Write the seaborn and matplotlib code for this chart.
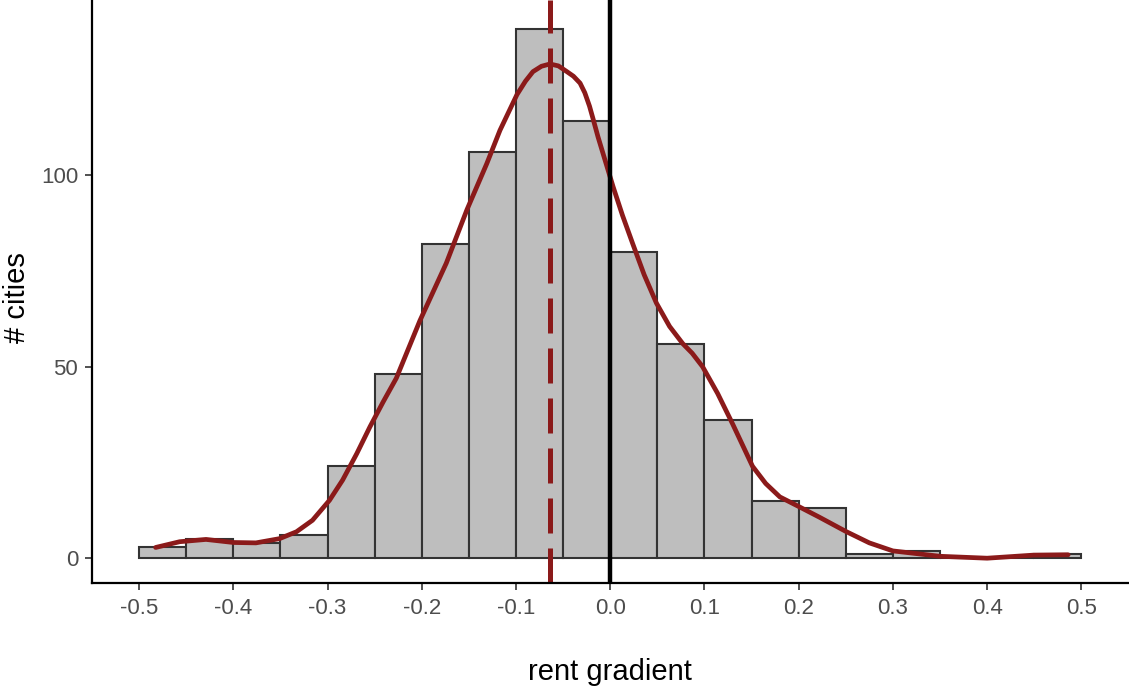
import matplotlib
matplotlib.use("Agg")
import matplotlib.pyplot as plt
import numpy as np
import seaborn as sns

# histogram: bins of width 0.05 from -0.5 to 0.5
bin_lo = [-0.5, -0.45, -0.4, -0.35, -0.3, -0.25, -0.2, -0.15, -0.1, -0.05,
          0.0, 0.05, 0.1, 0.15, 0.2, 0.25, 0.3, 0.35, 0.4, 0.45]
counts = [3, 5, 4, 6, 24, 48, 82, 106, 138, 114,
          80, 56, 36, 15, 13, 1, 2, 0, 0, 1]
bin_width = 0.05

# density curve (scaled to counts)
curve_x = [-0.4825, -0.457, -0.429, -0.400, -0.376, -0.351, -0.333, -0.316,
           -0.298, -0.284, -0.269, -0.255, -0.241, -0.227, -0.202, -0.174,
           -0.152, -0.131, -0.117, -0.099, -0.090, -0.082, -0.073, -0.064,
           -0.055, -0.046, -0.039, -0.032, -0.027, -0.022, -0.018, -0.013,
           -0.005, 0.003, 0.013, 0.024, 0.036, 0.049, 0.063, 0.077, 0.087,
           0.098, 0.114, 0.130, 0.151, 0.165, 0.180, 0.200, 0.222, 0.250,
           0.275, 0.300, 0.350, 0.400, 0.449, 0.486]
curve_y = [2.8, 4.3, 4.9, 4.1, 4.0, 5.1, 6.9, 9.9,
           15.1, 20.4, 27.3, 34.3, 40.8, 47.0, 62.0, 77.0,
           91.0, 103.0, 111.7, 121.0, 124.5, 127.0, 128.4, 129.0,
           128.5, 127.0, 125.8, 124.0, 121.5, 118.0, 114.5, 110.0,
           103.5, 97.0, 89.5, 82.0, 74.0, 66.6, 60.5, 56.0, 53.5,
           50.0, 43.0, 35.0, 24.0, 19.5, 16.0, 13.5, 10.7, 7.0,
           4.0, 1.9, 0.5, 0.0, 0.8, 0.9]

mean_gradient = -0.064

x_ticks = [-0.5, -0.4, -0.3, -0.2, -0.1, 0.0, 0.1, 0.2, 0.3, 0.4, 0.5]
y_ticks = [0, 50, 100]

sns.set_style("white")
plt.rcParams['font.family'] = ['Liberation Sans', 'DejaVu Sans']

fig = plt.figure(figsize=(11.29, 6.86), dpi=100)
ax = fig.add_axes([0.0815, 0.15, 0.918, 0.85])

centers = [b + bin_width / 2 for b in bin_lo]
edges = bin_lo + [bin_lo[-1] + bin_width]
sns.histplot(x=centers, weights=counts, bins=edges, ax=ax,
             color="#BEBEBE", alpha=1, edgecolor="#333333", linewidth=1.5)

sns.lineplot(x=curve_x, y=curve_y, ax=ax, color="#8B1A1A", linewidth=3.4,
             solid_capstyle="round", solid_joinstyle="round")

ax.axvline(mean_gradient, color="#8B1A1A", linewidth=3.6, dashes=(7, 3))
ax.axvline(0, color="black", linewidth=3.2)

ax.set_xlim(-0.55, 0.55)
ax.set_ylim(-6.5, 145.7)
ax.set_xticks(x_ticks)
ax.set_xticklabels([f"{t:.1f}" for t in x_ticks])
ax.set_yticks(y_ticks)

for s in ["top", "right"]:
    ax.spines[s].set_visible(False)
for s in ["left", "bottom"]:
    ax.spines[s].set_color("black")
    ax.spines[s].set_linewidth(1.6)

ax.tick_params(axis="both", length=5, width=1.2, color="#333333",
               labelcolor="#4D4D4D", labelsize=16, bottom=True, left=True)
ax.tick_params(axis="x", pad=6)
ax.tick_params(axis="y", pad=5)
ax.set_xlabel("rent gradient", fontsize=21, color="black")
ax.set_ylabel("# cities", fontsize=21, color="black")
ax.xaxis.set_label_coords(0.5, -0.128)
ax.yaxis.set_label_coords(-0.059, 0.489)

fig.savefig("out.png", dpi=100)
